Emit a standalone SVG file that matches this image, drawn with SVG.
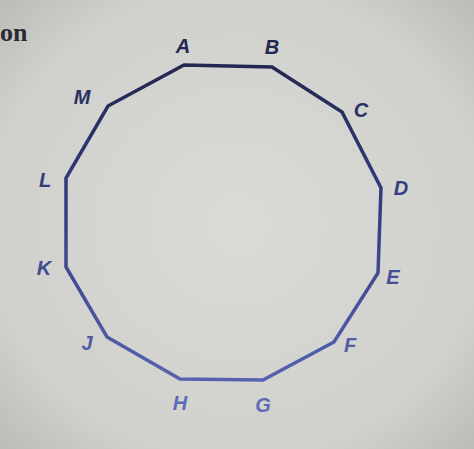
<svg xmlns="http://www.w3.org/2000/svg" width="474" height="449" viewBox="0 0 474 449">
<defs>
<radialGradient id="bg" cx="0.5" cy="0.5" r="0.75">
<stop offset="0" stop-color="#dadad6"/>
<stop offset="0.7" stop-color="#d0d0cc"/>
<stop offset="1" stop-color="#b6b6b2"/>
</radialGradient>
<linearGradient id="stroke" x1="0" y1="60" x2="0" y2="385" gradientUnits="userSpaceOnUse">
<stop offset="0" stop-color="#22264f"/>
<stop offset="0.5" stop-color="#373f86"/>
<stop offset="1" stop-color="#5763b0"/>
</linearGradient>
<linearGradient id="lbl" x1="0" y1="40" x2="0" y2="410" gradientUnits="userSpaceOnUse">
<stop offset="0" stop-color="#22264f"/>
<stop offset="0.5" stop-color="#394387"/>
<stop offset="1" stop-color="#5d6bb8"/>
</linearGradient>
</defs>
<style>
.lb{font-family:"Liberation Sans",Arial,sans-serif;font-size:20px;font-weight:bold;font-style:italic;fill:url(#lbl);text-anchor:middle;dominant-baseline:central}
</style>
<rect width="474" height="449" fill="url(#bg)"/>
<text x="0" y="41" font-family="Liberation Serif,serif" font-size="26" font-weight="bold" fill="#2c2c34">on</text>
<g id="connectors">
<polygon points="184,65 272,67 342,112 381,188 378,273 334,342 263,380 180,379 107,337 66,267 66,178 108,106" fill="none" stroke="url(#stroke)" stroke-width="3.5" stroke-linejoin="miter"/>
</g>
<g id="A"><text class="lb" x="183" y="46">A</text></g>
<g id="B"><text class="lb" x="272" y="47">B</text></g>
<g id="C"><text class="lb" x="361" y="110">C</text></g>
<g id="D"><text class="lb" x="401" y="188">D</text></g>
<g id="E"><text class="lb" x="393" y="277">E</text></g>
<g id="F"><text class="lb" x="350" y="345">F</text></g>
<g id="G"><text class="lb" x="263" y="405">G</text></g>
<g id="H"><text class="lb" x="180" y="403">H</text></g>
<g id="J"><text class="lb" x="87" y="343">J</text></g>
<g id="K"><text class="lb" x="44" y="268">K</text></g>
<g id="L"><text class="lb" x="45" y="180">L</text></g>
<g id="M"><text class="lb" x="82" y="97">M</text></g>
</svg>
